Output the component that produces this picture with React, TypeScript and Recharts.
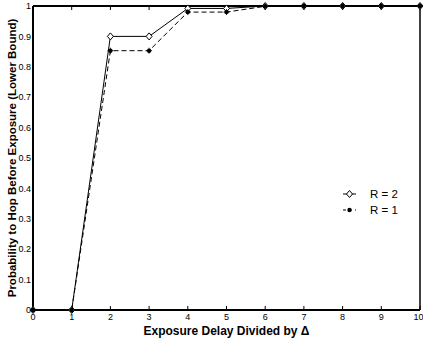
import React from 'react';
import { LineChart, Line, XAxis, YAxis } from 'recharts';

const xValues = [0, 1, 2, 3, 4, 5, 6, 7, 8, 9, 10];
const r2Values = [0, 0, 0.9, 0.9, 0.992, 0.992, 1, 1, 1, 1, 1];
const r1Values = [0, 0, 0.853, 0.853, 0.98, 0.98, 0.999, 1, 1, 1, 1];
const xTicks = [0, 1, 2, 3, 4, 5, 6, 7, 8, 9, 10];
const yTicks = [0, 0.1, 0.2, 0.3, 0.4, 0.5, 0.6, 0.7, 0.8, 0.9, 1];
const seriesNames = ['R = 2', 'R = 1'];

const data = xValues.map((x, i) => ({ x, r2: r2Values[i], r1: r1Values[i] }));

const FONT = '"Liberation Sans", Arial, Helvetica, sans-serif';

const Diamond = (props: any) => {
  const { cx, cy } = props;
  if (cx == null || cy == null) return null;
  return (
    <path
      key={`d-${cx}`}
      d={`M${cx},${cy - 3.5} L${cx + 3},${cy} L${cx},${cy + 3.5} L${cx - 3},${cy} Z`}
      fill="#fff"
      stroke="#000"
      strokeWidth={1}
    />
  );
};

const Star = (props: any) => {
  const { cx, cy } = props;
  if (cx == null || cy == null) return null;
  return (
    <g key={`s-${cx}`}>
      <circle cx={cx} cy={cy} r={2.2} fill="#000" />
      <path
        d={`M${cx - 3},${cy} L${cx + 3},${cy} M${cx},${cy - 3} L${cx},${cy + 3}`}
        stroke="#000"
        strokeWidth={0.8}
      />
    </g>
  );
};

const LegendBox = () => (
  <div
    style={{
      position: 'absolute',
      left: 342,
      top: 186,
      fontFamily: FONT,
      fontSize: 11.5,
      lineHeight: '16px',
      color: '#000',
      whiteSpace: 'nowrap',
    }}
  >
    <div style={{ display: 'flex', alignItems: 'center', height: 16 }}>
      <svg width={15} height={12} style={{ display: 'block' }}>
        <line x1={1} y1={6} x2={14} y2={6} stroke="#000" strokeWidth={1} />
        <path d="M7.5,2.5 L10.5,6 L7.5,9.5 L4.5,6 Z" fill="#fff" stroke="#000" />
      </svg>
      <span style={{ marginLeft: 13 }}>{seriesNames[0]}</span>
    </div>
    <div style={{ display: 'flex', alignItems: 'center', height: 16 }}>
      <svg width={15} height={12} style={{ display: 'block' }}>
        <line x1={1} y1={6} x2={14} y2={6} stroke="#000" strokeWidth={1} strokeDasharray="3 3" />
        <circle cx={7.5} cy={6} r={2.2} fill="#000" />
      </svg>
      <span style={{ marginLeft: 13 }}>{seriesNames[1]}</span>
    </div>
  </div>
);

const tickStyle = { fontSize: 9, fill: '#000', fontFamily: FONT };
const blank = () => '';

export default function App() {
  return (
    <div style={{ position: 'absolute', left: 0, top: 0, width: 423, height: 341, background: '#fff' }}>
      <LineChart
        width={423}
        height={341}
        data={data}
        margin={{ top: 6, right: 3, left: 0, bottom: 0 }}
        style={{ fontFamily: FONT }}
      >
        <XAxis
          xAxisId="b"
          dataKey="x"
          type="number"
          domain={[0, 10]}
          ticks={xTicks}
          height={31}
          tickLine={false}
          tickSize={0}
          tickMargin={4}
          axisLine={{ stroke: '#000', strokeWidth: 2 }}
          tick={tickStyle}
          label={{
            value: 'Exposure Delay Divided by Δ',
            position: 'insideBottom',
            offset: 6,
            style: { fontSize: 12, fontWeight: 'bold', fill: '#000', fontFamily: FONT },
          }}
        />
        <XAxis
          xAxisId="bm"
          dataKey="x"
          type="number"
          domain={[0, 10]}
          ticks={xTicks}
          orientation="bottom"
          mirror
          axisLine={false}
          tickSize={4}
          tickLine={{ stroke: '#000' }}
          tickFormatter={blank}
        />
        <XAxis
          xAxisId="t"
          dataKey="x"
          type="number"
          domain={[0, 10]}
          ticks={xTicks}
          orientation="top"
          mirror
          axisLine={{ stroke: '#000', strokeWidth: 2 }}
          tickSize={4}
          tickLine={{ stroke: '#000' }}
          tickFormatter={blank}
        />
        <YAxis
          yAxisId="l"
          type="number"
          domain={[0, 1]}
          ticks={yTicks}
          width={33}
          tickLine={false}
          tickSize={0}
          tickMargin={2}
          axisLine={{ stroke: '#000', strokeWidth: 2 }}
          tick={tickStyle}
          tickFormatter={(v: number) => (v === 0 || v === 1 ? String(v) : v.toFixed(1))}
          label={{
            value: 'Probability to Hop Before Exposure (Lower Bound)',
            angle: -90,
            position: 'insideLeft',
            offset: 12,
            style: { fontSize: 11.5, fontWeight: 'bold', fill: '#000', fontFamily: FONT, textAnchor: 'middle' },
          }}
        />
        <YAxis
          yAxisId="lm"
          type="number"
          domain={[0, 1]}
          ticks={yTicks}
          mirror
          axisLine={false}
          tickSize={4}
          tickLine={{ stroke: '#000' }}
          tickFormatter={blank}
        />
        <YAxis
          yAxisId="r"
          type="number"
          domain={[0, 1]}
          ticks={yTicks}
          orientation="right"
          mirror
          axisLine={{ stroke: '#000', strokeWidth: 1.5 }}
          tickSize={4}
          tickLine={{ stroke: '#000' }}
          tickFormatter={blank}
        />
        <Line
          xAxisId="b"
          yAxisId="l"
          dataKey="r2"
          name={seriesNames[0]}
          stroke="#000"
          strokeWidth={1}
          dot={<Diamond />}
          isAnimationActive={false}
        />
        <Line
          xAxisId="b"
          yAxisId="l"
          dataKey="r1"
          name={seriesNames[1]}
          stroke="#000"
          strokeWidth={1}
          strokeDasharray="5 3"
          dot={<Star />}
          isAnimationActive={false}
        />
      </LineChart>
      <LegendBox />
    </div>
  );
}
